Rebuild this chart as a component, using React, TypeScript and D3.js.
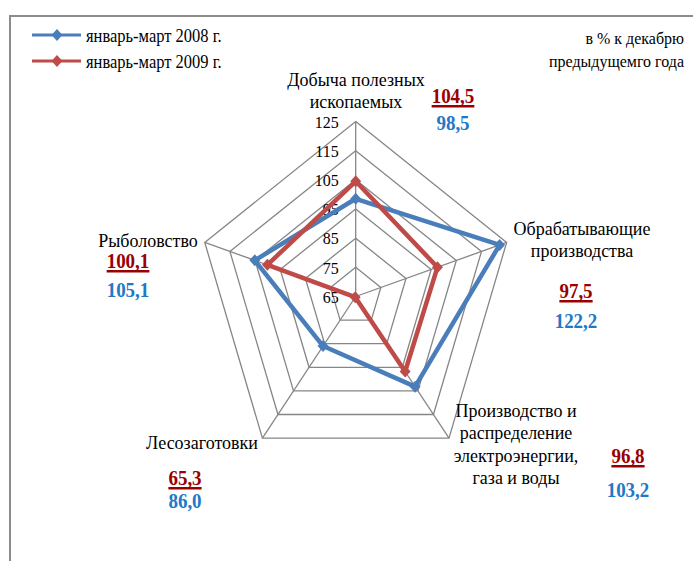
import React, { useRef, useEffect } from 'react';
import * as d3 from 'd3';

// categories (clockwise from the top) and series values
const categories = [
  'Добыча полезных ископаемых',
  'Обрабатывающие производства',
  'Производство и распределение электроэнергии, газа и воды',
  'Лесозаготовки',
  'Рыболовство',
];
const values2008 = [98.5, 122.2, 103.2, 86.0, 105.1];
const values2009 = [104.5, 97.5, 96.8, 65.3, 100.1];
const valueText2008 = ['98,5', '122,2', '103,2', '86,0', '105,1'];
const valueText2009 = ['104,5', '97,5', '96,8', '65,3', '100,1'];
const tickValues = [65, 75, 85, 95, 105, 115, 125];
const seriesNames = ['январь-март 2008 г.', 'январь-март 2009 г.'];
const unitNote = ['в % к декабрю', 'предыдущемго года'];

// label layout (line breaks + anchor for each category)
const catLines = [
  ['Добыча полезных', 'ископаемых'],
  ['Обрабатывающие', 'производства'],
  ['Производство и', 'распределение', 'электроэнергии,', 'газа и воды'],
  ['Лесозаготовки'],
  ['Рыболовство'],
];
const catPos = [
  { x: 356, y: 86 },
  { x: 582, y: 235 },
  { x: 516, y: 417 },
  { x: 202, y: 449 },
  { x: 148, y: 247 },
];
const valPos = [
  { x: 453, y1: 103, y2: 130 },
  { x: 576, y1: 298, y2: 328 },
  { x: 628, y1: 463, y2: 497 },
  { x: 185, y1: 485, y2: 508 },
  { x: 128, y1: 268, y2: 297 },
];

const W = 693;
const H = 561;
const SQ = 0.907; // the whole picture is a bit narrower than tall

const App = () => {
  const svgRef = useRef<SVGSVGElement>(null);

  useEffect(() => {
    const svg = d3.select(svgRef.current);
    svg.selectAll('*').remove();

    const cx = 355.7;
    const cy = 296.5;
    const radius = 175;

    const r = d3.scaleLinear().domain([65, 125]).range([0, radius]);
    const angle = d3.scaleLinear().domain([0, categories.length]).range([0, 2 * Math.PI]);
    const pt = (i: number, v: number): [number, number] => {
      const a = angle(i);
      return [cx + r(v) * Math.sin(a) * SQ, cy - r(v) * Math.cos(a)];
    };

    const font = "'Liberation Serif', 'DejaVu Serif', Times, serif";

    const addText = (x: number, y: number, txt: string, size: number, anchor = 'start') =>
      svg.append('text')
        .attr('transform', `translate(${x},${y}) scale(${SQ},1)`)
        .attr('text-anchor', anchor)
        .attr('font-family', font)
        .attr('font-size', size / SQ)
        .text(txt);

    // frame
    svg.append('path')
      .attr('d', `M10,${H} L10,16 L${W},16`)
      .attr('fill', 'none')
      .attr('stroke', '#8c8c8c')
      .attr('stroke-width', 2);

    // grid rings
    tickValues.slice(1).forEach(t => {
      const ring = categories.map((_, i) => pt(i, t));
      svg.append('path')
        .attr('d', d3.line()([...ring, ring[0]]))
        .attr('fill', 'none')
        .attr('stroke', '#868686')
        .attr('stroke-width', 1.3);
    });
    categories.forEach((_, i) => {
      const [x, y] = pt(i, 125);
      svg.append('line')
        .attr('x1', cx).attr('y1', cy)
        .attr('x2', x).attr('y2', y)
        .attr('stroke', '#868686')
        .attr('stroke-width', 1.3);
    });

    // tick labels
    tickValues.forEach(t => {
      addText(cx - 17, cy - r(t), String(t), 16, 'end').attr('dy', '0.35em');
    });

    // series
    const series = [
      { name: seriesNames[0], values: values2008, color: '#4A7EBB' },
      { name: seriesNames[1], values: values2009, color: '#BE4B48' },
    ];
    const diamond = (x: number, y: number, s: number) =>
      `M${x},${y - s} L${x + s * SQ},${y} L${x},${y + s} L${x - s * SQ},${y} Z`;

    series.forEach(s => {
      const pts = s.values.map((v, i) => pt(i, v));
      svg.append('path')
        .attr('d', d3.line()([...pts, pts[0]]))
        .attr('fill', 'none')
        .attr('stroke', s.color)
        .attr('stroke-width', 4.5)
        .attr('stroke-linejoin', 'round');
      svg.selectAll(null)
        .data(pts)
        .enter()
        .append('path')
        .attr('d', d => diamond(d[0], d[1], 6))
        .attr('fill', s.color);
    });

    // legend
    series.forEach((s, i) => {
      const y = 35 + i * 26;
      svg.append('line')
        .attr('x1', 32).attr('x2', 81)
        .attr('y1', y).attr('y2', y)
        .attr('stroke', s.color)
        .attr('stroke-width', 3);
      svg.append('path').attr('d', diamond(57, y, 6)).attr('fill', s.color);
      addText(86, y + 6.5, s.name, 16.5);
    });

    // unit note
    unitNote.forEach((t, i) => {
      addText(684, 44 + i * 23, t, 16, 'end');
    });

    // category labels
    catLines.forEach((lines, i) => {
      lines.forEach((line, j) => {
        addText(catPos[i].x, catPos[i].y + j * 22.3, line, 18, 'middle');
      });
    });

    // value labels
    valPos.forEach((p, i) => {
      const red = addText(p.x, p.y1, valueText2009[i], 19, 'middle')
        .attr('fill', '#990000')
        .attr('font-weight', 'bold');
      const bb = (red.node() as SVGTextElement).getBBox();
      svg.append('rect')
        .attr('x', p.x + bb.x * SQ)
        .attr('y', p.y1 + 2)
        .attr('width', bb.width * SQ)
        .attr('height', 2.5)
        .attr('fill', '#990000');
      addText(p.x, p.y2, valueText2008[i], 19, 'middle')
        .attr('fill', '#1F78C8')
        .attr('font-weight', 'bold');
    });
  }, []);

  return (
    <svg
      ref={svgRef}
      width={W}
      height={H}
      style={{ position: 'absolute', left: 0, top: 0, background: '#fff' }}
    />
  );
};

export default App;
